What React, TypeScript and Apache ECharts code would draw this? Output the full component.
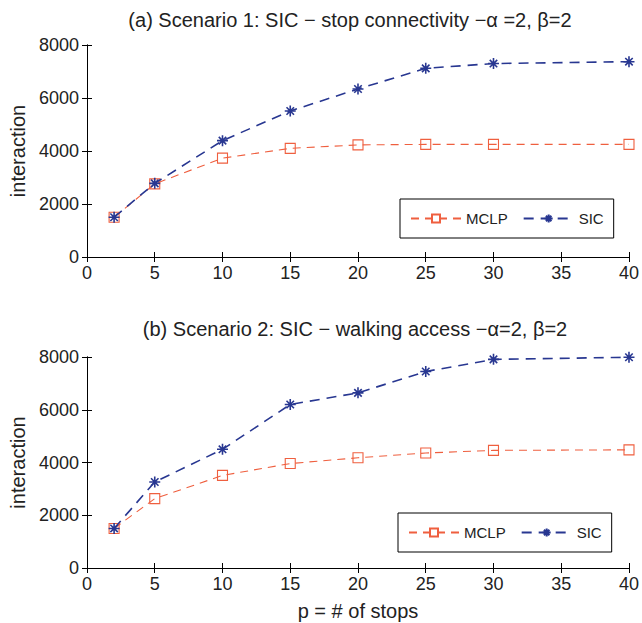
import React, { useEffect, useRef } from "react";
import * as echarts from "echarts";

const stops = [2, 5, 10, 15, 20, 25, 30, 40];
const mclpA = [1500, 2760, 3730, 4100, 4230, 4250, 4250, 4250];
const sicA = [1500, 2780, 4390, 5510, 6340, 7120, 7300, 7370];
const mclpB = [1500, 2630, 3510, 3960, 4180, 4360, 4460, 4480];
const sicB = [1500, 3260, 4500, 6200, 6640, 7450, 7910, 7990];
const titleA = "(a) Scenario 1: SIC \u2212 stop connectivity \u2212\u03b1 =2, \u03b2=2";
const titleB = "(b) Scenario 2: SIC \u2212 walking access \u2212\u03b1=2, \u03b2=2";
const yName = "interaction";
const xName = "p = # of stops";

const FONT = "Liberation Sans, Arial, Helvetica, sans-serif";
const ORANGE = "#ef5f3f";
const BLUE = "#283791";
const ASTER = "path://M5 0L5 10M0 5L10 5M1.6 1.6L8.4 8.4M1.6 8.4L8.4 1.6";

export default function App() {
  const ref = useRef<HTMLDivElement>(null);
  useEffect(() => {
    if (!ref.current) return;
    const chart = echarts.init(ref.current, null, { renderer: "svg" });
    const grids = [
      { left: 87, top: 45, width: 544, height: 212 },
      { left: 87, top: 357, width: 544, height: 211 },
    ];
    const axisLine = { show: true, lineStyle: { color: "#000", width: 1 } };
    const tick = { show: true, inside: true, length: 5, lineStyle: { color: "#000" } };
    const xAxes: any[] = [];
    const yAxes: any[] = [];
    const fmt = (v: number) => String(v);
    [0, 1].forEach((g) => {
      xAxes.push({
        type: "value", gridIndex: g, min: 0, max: 40, interval: 5, position: "bottom",
        axisLine, axisTick: tick, splitLine: { show: false },
        axisLabel: { color: "#222", fontSize: 18, fontFamily: FONT, margin: 7, formatter: fmt },
        name: g === 1 ? xName : "", nameLocation: "middle", nameGap: 33,
        nameTextStyle: { color: "#222", fontSize: 20, fontFamily: FONT },
      });
      xAxes.push({
        type: "value", gridIndex: g, min: 0, max: 40, interval: 5, position: "top",
        axisLine, axisTick: tick, splitLine: { show: false }, axisLabel: { show: false },
      });
      yAxes.push({
        type: "value", gridIndex: g, min: 0, max: 8000, interval: 2000, position: "left",
        axisLine, axisTick: tick, splitLine: { show: false },
        axisLabel: { color: "#222", fontSize: 18, fontFamily: FONT, margin: 8, formatter: fmt },
        name: yName, nameLocation: "middle", nameGap: 57, nameRotate: 90,
        nameTextStyle: { color: "#222", fontSize: 20, fontFamily: FONT },
      });
      yAxes.push({
        type: "value", gridIndex: g, min: 0, max: 8000, interval: 2000, position: "right",
        axisLine, axisTick: tick, splitLine: { show: false }, axisLabel: { show: false },
      });
    });
    const mk = (name: string, vals: number[], g: number, isSic: boolean) => ({
      name,
      type: "line",
      xAxisIndex: g * 2,
      yAxisIndex: g * 2,
      data: stops.map((s, i) => [s, vals[i]]),
      symbol: isSic ? ASTER : "rect",
      symbolSize: isSic ? 11 : 10,
      z: isSic ? 3 : 2,
      lineStyle: isSic
        ? { color: BLUE, width: 1.6, type: [10, 7] }
        : { color: ORANGE, width: 1.1, type: [8, 6] },
      itemStyle: isSic
        ? { color: BLUE, borderColor: BLUE, borderWidth: 1.6 }
        : { color: "rgba(0,0,0,0)", borderColor: ORANGE, borderWidth: 1.1 },
      emphasis: { disabled: true },
    });
    const legendBase = {
      data: ["MCLP", "SIC"],
      orient: "horizontal",
      itemWidth: 50,
      itemHeight: 10,
      itemGap: 15,
      padding: [12, 10, 12, 10],
      borderColor: "#000",
      borderWidth: 1,
      backgroundColor: "#fff",
      selectedMode: false,
      textStyle: { color: "#222", fontSize: 15, fontFamily: FONT },
    };
    chart.setOption({
      animation: false,
      backgroundColor: "#fff",
      grid: grids,
      xAxis: xAxes,
      yAxis: yAxes,
      legend: [
        { ...legendBase, left: 400, top: 199 },
        { ...legendBase, left: 398, top: 513 },
      ],
      graphic: [
        {
          type: "text", x: 350, y: 20,
          style: { text: titleA, fontSize: 20, fontFamily: FONT, fill: "#222", align: "center", verticalAlign: "middle" },
        },
        {
          type: "text", x: 355, y: 329,
          style: { text: titleB, fontSize: 20, fontFamily: FONT, fill: "#222", align: "center", verticalAlign: "middle" },
        },
      ],
      series: [
        mk("MCLP", mclpA, 0, false),
        mk("SIC", sicA, 0, true),
        mk("MCLP", mclpB, 1, false),
        mk("SIC", sicB, 1, true),
      ],
    });
    return () => chart.dispose();
  }, []);
  return (
    <div
      ref={ref}
      style={{ position: "fixed", left: 0, top: 0, width: 642, height: 623 }}
    />
  );
}
